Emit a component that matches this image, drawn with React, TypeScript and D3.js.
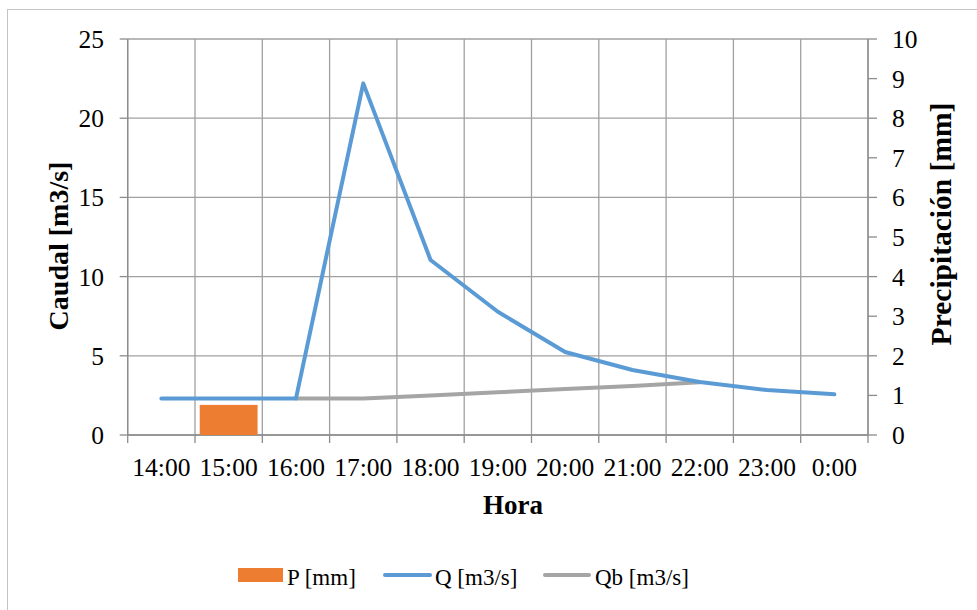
import React from "react";
import * as d3 from "d3";

const categories = ["14:00", "15:00", "16:00", "17:00", "18:00", "19:00", "20:00", "21:00", "22:00", "23:00", "0:00"];
const precipitation: (number | null)[] = [null, 0.76, null, null, null, null, null, null, null, null, null];
const caudalQ: (number | null)[] = [2.3, 2.3, 2.3, 22.2, 11.05, 7.78, 5.24, 4.1, 3.35, 2.84, 2.57];
const caudalQb: (number | null)[] = [null, null, 2.3, 2.3, 2.5, 2.7, 2.9, 3.1, 3.33, null, null];
const leftTicks = [0, 5, 10, 15, 20, 25];
const rightTicks = [0, 1, 2, 3, 4, 5, 6, 7, 8, 9, 10];

const W = 977, H = 610;
const plot = { left: 127.7, right: 868, top: 39, bottom: 435 };
const FONT = "'Liberation Serif'";
const GRID = "#a0a0a0";
const AXIS = "#8c8c8c";

export default function App() {
  const x = d3.scaleBand<string>().domain(categories).range([plot.left, plot.right]).paddingInner(0).paddingOuter(0);
  const yL = d3.scaleLinear().domain([0, 25]).range([plot.bottom, plot.top]);
  const yR = d3.scaleLinear().domain([0, 10]).range([plot.bottom, plot.top]);
  const bw = x.bandwidth();
  const cx = (c: string) => (x(c) as number) + bw / 2;

  const line = d3
    .line<number | null>()
    .defined((d) => d !== null)
    .x((_, i) => cx(categories[i]))
    .y((d) => yL(d as number));

  const boundaries = categories.map((c) => x(c) as number).concat([plot.right]);
  const gap = bw * 0.07;
  const ts = { fontFamily: FONT };

  return (
    <svg width={W} height={H} style={{ position: "absolute", left: 0, top: 0, background: "#fff" }}>
      <rect x={7.5} y={9.5} width={1100} height={800} fill="#fff" stroke="#c4c4c4" strokeWidth={1} />
      {leftTicks.map((t) => (
        <line key={"h" + t} x1={plot.left} x2={plot.right} y1={yL(t)} y2={yL(t)} stroke={GRID} strokeWidth={1.3} />
      ))}
      {boundaries.map((b, i) => (
        <line key={"v" + i} x1={b} x2={b} y1={plot.top} y2={plot.bottom} stroke={GRID} strokeWidth={1.3} />
      ))}
      <line x1={plot.left} x2={plot.left} y1={plot.top} y2={plot.bottom} stroke={AXIS} strokeWidth={1.3} />
      <line x1={plot.right} x2={plot.right} y1={plot.top} y2={plot.bottom} stroke={AXIS} strokeWidth={1.3} />
      <line x1={plot.left} x2={plot.right} y1={plot.bottom} y2={plot.bottom} stroke={AXIS} strokeWidth={1.3} />
      {leftTicks.map((t) => (
        <g key={"lt" + t}>
          <line x1={plot.left - 8} x2={plot.left} y1={yL(t)} y2={yL(t)} stroke={AXIS} strokeWidth={1.3} />
          <text x={104} y={yL(t)} dy="0.35em" textAnchor="end" fontSize={25.5} fill="#000" style={ts}>{t}</text>
        </g>
      ))}
      {rightTicks.map((t) => (
        <g key={"rt" + t}>
          <line x1={plot.right} x2={plot.right + 9} y1={yR(t)} y2={yR(t)} stroke={AXIS} strokeWidth={1.3} />
          <text x={892} y={yR(t)} dy="0.35em" textAnchor="start" fontSize={25.5} fill="#000" style={ts}>{t}</text>
        </g>
      ))}
      {boundaries.map((b, i) => (
        <line key={"xt" + i} x1={b} x2={b} y1={plot.bottom} y2={plot.bottom + 8} stroke={AXIS} strokeWidth={1.3} />
      ))}
      {categories.map((c) => (
        <text key={"xl" + c} x={cx(c)} y={476} textAnchor="middle" fontSize={25.5} fill="#000" style={ts}>{c}</text>
      ))}
      {precipitation.map((v, i) =>
        v === null ? null : (
          <rect key={"b" + i} x={(x(categories[i]) as number) + gap} y={yR(v)} width={bw - 2 * gap} height={yR(0) - yR(v)} fill="#ed7d31" />
        )
      )}
      <path d={line(caudalQb) || ""} fill="none" stroke="#a5a5a5" strokeWidth={4} strokeLinejoin="round" strokeLinecap="round" />
      <path d={line(caudalQ) || ""} fill="none" stroke="#5b9bd5" strokeWidth={4} strokeLinejoin="round" strokeLinecap="round" />
      <text x={513} y={514} textAnchor="middle" fontSize={27} fontWeight="bold" fill="#000" style={ts}>Hora</text>
      <text transform={`translate(68,246) rotate(-90)`} textAnchor="middle" fontSize={28} fontWeight="bold" fill="#000" style={ts}>Caudal [m3/s]</text>
      <text transform={`translate(951,224) rotate(-90)`} textAnchor="middle" fontSize={29.5} fontWeight="bold" fill="#000" style={ts}>Precipitación [mm]</text>
      <rect x={238} y={568} width={45} height={14} fill="#ed7d31" />
      <text x={287} y={585} fontSize={23} fill="#000" style={ts}>P [mm]</text>
      <line x1={385} x2={430} y1={575} y2={575} stroke="#5b9bd5" strokeWidth={4} strokeLinecap="round" />
      <text x={435} y={585} fontSize={23} fill="#000" style={ts}>Q [m3/s]</text>
      <line x1={545} x2={589} y1={575} y2={575} stroke="#a5a5a5" strokeWidth={4} strokeLinecap="round" />
      <text x={595} y={585} fontSize={23} fill="#000" style={ts}>Qb [m3/s]</text>
    </svg>
  );
}
